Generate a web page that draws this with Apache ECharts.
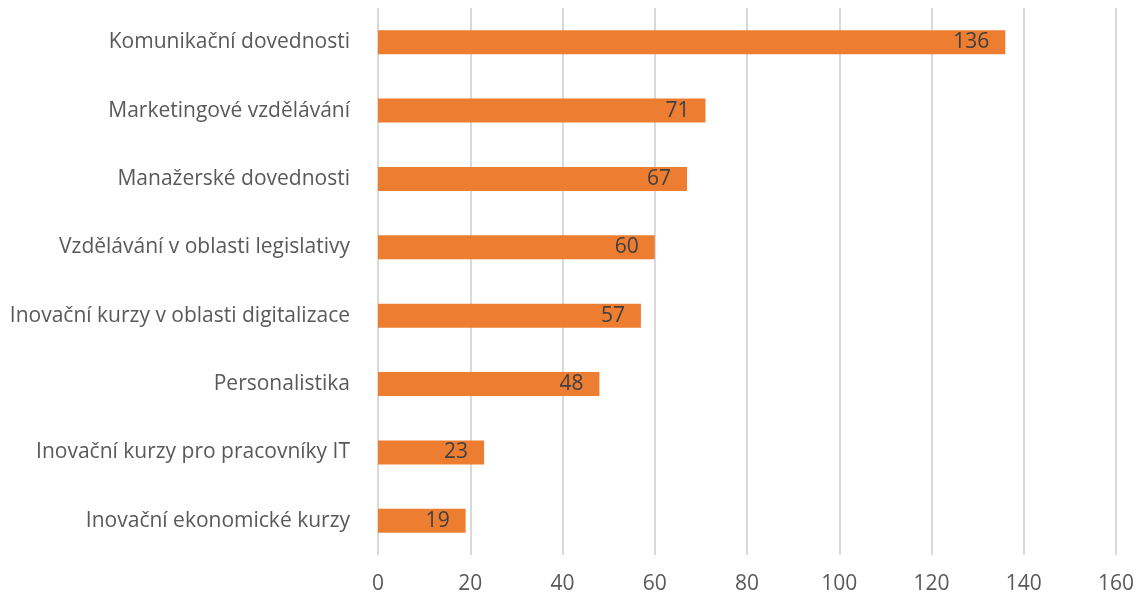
<!DOCTYPE html>
<html><head><meta charset="utf-8">
<script src="https://cdn.jsdelivr.net/npm/echarts@6/dist/echarts.min.js"></script>
<style>html,body{margin:0;padding:0;background:#fff}#c{width:1138px;height:598px}</style>
</head><body><div id="c"></div>
<script>
const categories = ["Komunikační dovednosti","Marketingové vzdělávání","Manažerské dovednosti","Vzdělávání v oblasti legislativy","Inovační kurzy v oblasti digitalizace","Personalistika","Inovační kurzy pro pracovníky IT","Inovační ekonomické kurzy"];
const values = [136,71,67,60,57,48,23,19];
const xTicks = {min:0,max:160,interval:20};
const chart = echarts.init(document.getElementById('c'));
const FONT = 'Open Sans';
chart.setOption({
  animation:false,
  grid:{left:378,right:22,top:8,bottom:43,containLabel:false},
  xAxis:{type:'value',min:xTicks.min,max:xTicks.max,interval:xTicks.interval,
    axisLine:{show:false},axisTick:{show:false},
    splitLine:{lineStyle:{color:'#d9d9d9',width:2}},
    axisLabel:{color:'#595959',fontSize:21,fontFamily:FONT,margin:19}},
  yAxis:{type:'category',data:categories,inverse:true,
    axisLine:{show:false},axisTick:{show:false},
    axisLabel:{color:'#595959',fontSize:21,fontFamily:FONT,margin:28}},
  series:[{type:'bar',data:values,barWidth:24,itemStyle:{color:'#ED7D31'},
    label:{show:true,position:'insideRight',distance:16,color:'#404040',fontSize:21,fontFamily:FONT}}]
});
</script></body></html>
